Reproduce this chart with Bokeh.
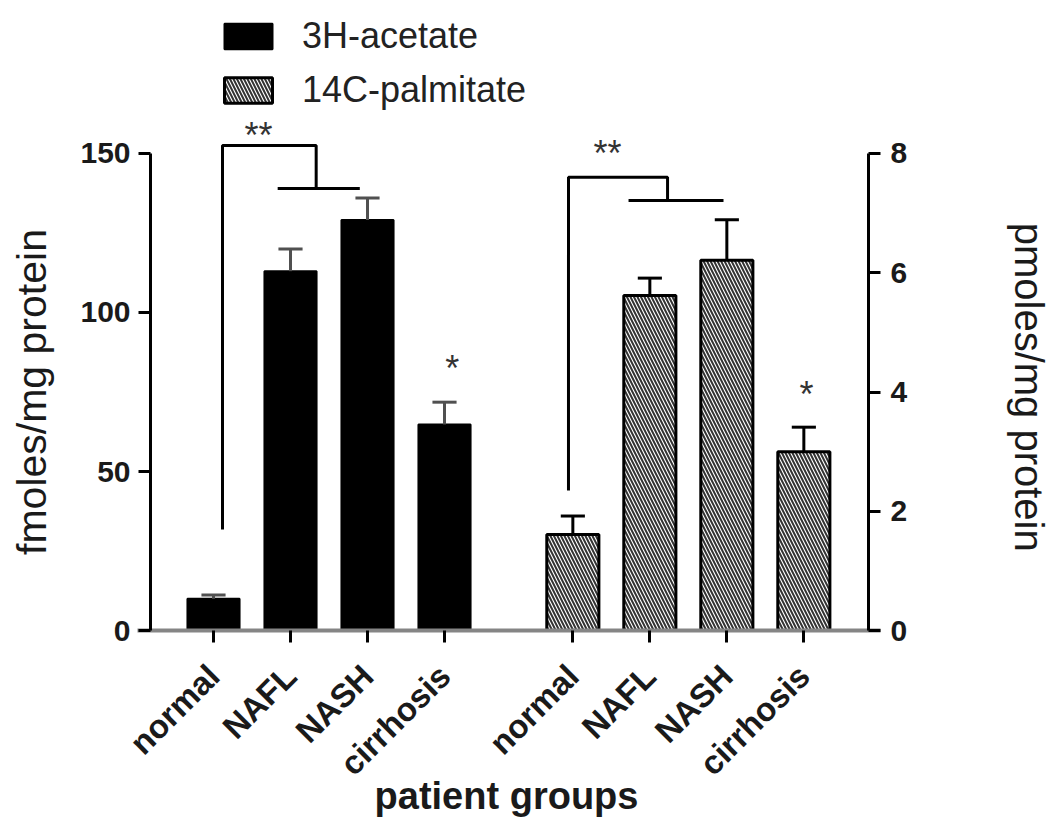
from bokeh.plotting import figure
from bokeh.models import (Range1d, LinearAxis, FixedTicker, Legend, LegendItem)
from bokeh.core.properties import value
from bokeh.embed import file_html
from bokeh.resources import INLINE
import math

# ---- data ----
categories = ["normal", "NAFL", "NASH", "cirrhosis"]
acetate = [10.0, 113.0, 129.1, 64.8]          # fmoles/mg protein (left axis)
acetate_sem = [1.2, 7.0, 6.9, 7.0]
palmitate = [1.61, 5.62, 6.21, 3.00]          # pmoles/mg protein (right axis)
palmitate_sem = [0.31, 0.29, 0.68, 0.41]
left_ticks = [0, 50, 100, 150]
right_ticks = [0, 2, 4, 6, 8]
series_names = ["3H-acetate", "14C-palmitate"]
left_title = "fmoles/mg protein"
right_title = "pmoles/mg protein"
x_title = "patient groups"

FONT = "Liberation Sans"

# ---- layout helpers (positions, in axis units) ----
step = 3
xl = [i * step for i in range(len(categories))]
xr = [14 + i * step for i in range(len(categories))]
bar_w = 2.03
cap_w = 0.94
left_axis_at = -2.4545
right_axis_at = 25.52
r2l = 150 / 8                      # right-axis unit -> left-axis unit

y_lo, y_hi = -61.006, 198.113

p = figure(width=1050, height=824, output_backend="svg", toolbar_location=None,
           x_range=Range1d(-8.299, 32.61), y_range=Range1d(y_lo, y_hi),
           min_border_left=0, min_border_right=0, min_border_top=0,
           min_border_bottom=0, outline_line_color=None)
p.extra_y_ranges = {"right": Range1d(y_lo / r2l, y_hi / r2l)}
p.grid.visible = False
p.axis.visible = False

# x axis at y = 0
xaxis = LinearAxis(ticker=FixedTicker(ticks=xl + xr), bounds=(-2.961, 25.987),
                   fixed_location=0,
                   major_label_overrides={**{x: c for x, c in zip(xl, categories)},
                                          **{x: c for x, c in zip(xr, categories)}})
xaxis.axis_line_color = "#858585"
xaxis.axis_line_width = 4
xaxis.major_tick_line_color = "black"
xaxis.major_tick_line_width = 3
xaxis.major_tick_out = 12
xaxis.major_tick_in = 0
xaxis.minor_tick_line_color = None
xaxis.major_label_orientation = math.pi / 4
xaxis.major_label_text_font = FONT
xaxis.major_label_text_font_style = "bold"
xaxis.major_label_text_font_size = "33px"
xaxis.major_label_text_color = "#1a1a1a"
xaxis.major_label_standoff = 28
p.add_layout(xaxis, "below")

# left axis
yl = LinearAxis(ticker=FixedTicker(ticks=left_ticks), bounds=(0, 150),
                fixed_location=left_axis_at)
yl.axis_line_width = 3
yl.major_tick_line_width = 3
yl.major_tick_out = 12
yl.major_tick_in = 0
yl.minor_tick_line_color = None
yl.major_label_text_font = FONT
yl.major_label_text_font_style = "bold"
yl.major_label_text_font_size = "30px"
yl.major_label_text_color = "#1a1a1a"
yl.major_label_standoff = 8
p.add_layout(yl, "left")

# right axis
yr = LinearAxis(y_range_name="right", ticker=FixedTicker(ticks=right_ticks), bounds=(0, 8),
                fixed_location=right_axis_at)
yr.axis_line_width = 3
yr.major_tick_line_width = 3
yr.major_tick_out = 12
yr.major_tick_in = 0
yr.minor_tick_line_color = None
yr.major_label_text_font = FONT
yr.major_label_text_font_style = "bold"
yr.major_label_text_font_size = "30px"
yr.major_label_text_color = "#1a1a1a"
yr.major_label_standoff = 10
p.add_layout(yr, "right")

# axis titles
p.text(x=[-7.09], y=[75], text=[left_title], angle=math.pi / 2,
       text_font=value(FONT), text_font_size="41px", text_color="#1a1a1a",
       text_align="center", text_baseline="middle")
p.text(x=[31.79], y=[76.5], text=[right_title], angle=-math.pi / 2,
       text_font=value(FONT), text_font_size="40px", text_color="#1a1a1a",
       text_align="center", text_baseline="middle")
p.text(x=[11.415], y=[-52.2], text=[x_title],
       text_font=value(FONT), text_font_size="38px", text_font_style="bold",
       text_color="#1a1a1a", text_align="center", text_baseline="middle")

# bars
r1 = p.vbar(x=xl, top=acetate, width=bar_w, bottom=0,
            fill_color="black", line_color="black", line_width=2)
r2 = p.vbar(x=xr, top=palmitate, width=bar_w, bottom=0, y_range_name="right",
            fill_color="white", line_color="black", line_width=3,
            hatch_pattern="\\", hatch_color="#333333", hatch_weight=2, hatch_scale=7)

# error bars (upper only)
acet_hi = [v + e for v, e in zip(acetate, acetate_sem)]
palm_hi = [v + e for v, e in zip(palmitate, palmitate_sem)]
p.segment(x0=xl, y0=acetate, x1=xl, y1=acet_hi, line_color="#505050", line_width=3)
p.segment(x0=[x - cap_w / 2 for x in xl], y0=acet_hi, x1=[x + cap_w / 2 for x in xl],
          y1=acet_hi, line_color="#505050", line_width=3)
p.segment(x0=xr, y0=palmitate, x1=xr, y1=palm_hi, line_color="black", line_width=3,
          y_range_name="right")
p.segment(x0=[x - cap_w / 2 for x in xr], y0=palm_hi, x1=[x + cap_w / 2 for x in xr],
          y1=palm_hi, line_color="black", line_width=3, y_range_name="right")

# significance brackets
p.multi_line(xs=[[xl[0] + 0.35, xl[0] + 0.35, xl[1] + 1.0, xl[1] + 1.0],
                 [xl[1] - 0.5, xl[2] - 0.3]],
             ys=[[31.8, 152.5, 152.5, 139.0], [139.0, 139.0]],
             line_color="black", line_width=3)
p.multi_line(xs=[[xr[0] - 0.17, xr[0] - 0.17, xr[1] + 0.69, xr[1] + 0.69],
                 [xr[1] - 0.83, xr[2] - 0.13]],
             ys=[[2.35, 7.6, 7.6, 7.21], [7.21, 7.21]],
             line_color="black", line_width=3, y_range_name="right")

star_font = value(FONT)
p.text(x=[xl[0] + 1.75], y=[155.7], text=["**"], text_font=star_font,
       text_font_size="36px", text_align="center", text_baseline="alphabetic",
       text_color="#333333")
p.text(x=[xl[3] + 0.3], y=[82.3], text=["*"], text_font=star_font,
       text_font_size="36px", text_align="center", text_baseline="alphabetic",
       text_color="#333333")
p.text(x=[xr[0] + 1.35], y=[8.0], text=["**"], text_font=star_font,
       text_font_size="36px", text_align="center", text_baseline="alphabetic",
       text_color="#333333", y_range_name="right")
p.text(x=[xr[3] + 0.1], y=[3.96], text=["*"], text_font=star_font,
       text_font_size="36px", text_align="center", text_baseline="alphabetic",
       text_color="#333333", y_range_name="right")

legend = Legend(items=[LegendItem(label=series_names[0], renderers=[r1]),
                       LegendItem(label=series_names[1], renderers=[r2])],
                location=(218, 713), orientation="vertical",
                glyph_width=60, glyph_height=32, label_height=40, spacing=12,
                label_standoff=24, padding=0, margin=0,
                label_text_font=FONT, label_text_font_size="36px",
                label_text_color="#222222",
                border_line_color=None, background_fill_alpha=0)
p.add_layout(legend, "center")

open("out.html", "w").write(file_html(p, INLINE))
